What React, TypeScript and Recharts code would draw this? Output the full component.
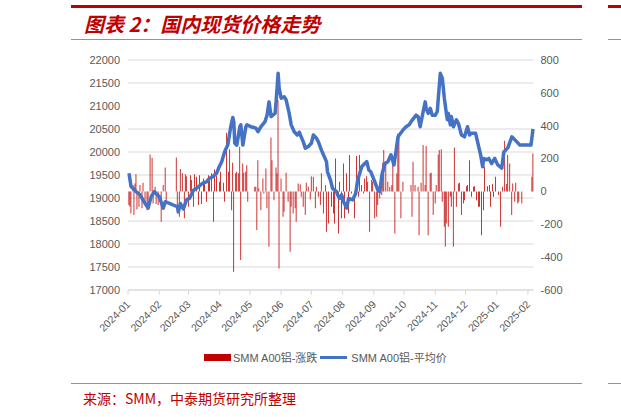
import React from 'react';
import { ComposedChart, Bar, Line, XAxis, YAxis, CartesianGrid, Legend } from 'recharts';

// day offsets from 2024-01-01 for the average price line
const lineDays = [
  1, 3, 5, 8, 12, 17, 20, 23, 26, 29, 31, 35, 37, 49, 50, 52, 55, 58, 61, 65,
  68, 74, 78, 81, 84, 88, 90, 93, 96, 99, 102, 104, 105, 106, 108, 111, 112, 114, 117, 118,
  122, 127, 129, 132, 136, 138, 140, 142, 146, 147, 149, 150, 152, 155, 157, 160, 162, 165, 168, 170,
  174, 176, 179, 182, 184, 187, 189, 192, 194, 197, 198, 201, 203, 207, 208, 210, 212, 214, 217, 219,
  223, 226, 228, 232, 235, 237, 239, 241, 245, 248, 250, 252, 255, 258, 261, 264, 266, 268, 273, 276,
  279, 281, 286, 288, 290, 293, 295, 296, 298, 300, 302, 305, 307, 308, 310, 312, 314, 316, 317, 318,
  320, 321, 323, 326, 328, 331, 334, 337, 339, 341, 345, 347, 350, 352, 353, 356, 358, 361, 364, 367,
  371, 373, 377, 381, 386, 389, 400, 402,
];
const avgPrice = [
  19540, 19250, 19210, 19140, 19070, 18880, 18780, 19030, 19140, 19070, 19030, 18780, 18920, 18810, 18700, 18880, 18760, 18960, 18990, 19170,
  19210, 19320, 19350, 19430, 19460, 19540, 19650, 19790, 20010, 20150, 20550, 20750, 20660, 20190, 20150, 20550, 20590, 20150, 20550, 20590,
  20550, 20520, 20440, 20550, 20660, 20800, 21090, 20770, 20840, 21090, 21710, 21390, 21170, 21200, 21130, 20840, 20590, 20440, 20370, 20430,
  20220, 20080, 20120, 20190, 20370, 20300, 20220, 20040, 19940, 19790, 19570, 19390, 19210, 19140, 19070, 18990, 19070, 18920, 18780, 18990,
  18960, 19100, 19390, 19680, 19750, 19790, 19610, 19570, 19350, 19170, 19140, 19500, 19750, 19790, 19940, 19720, 20010, 20330, 20480, 20550,
  20590, 20660, 20800, 20770, 20550, 20880, 21090, 20950, 20840, 20950, 20800, 20800, 20880, 21170, 21710, 21600, 21170, 20840, 20700, 20840,
  20590, 20770, 20550, 20700, 20620, 20370, 20330, 20550, 20370, 20410, 20410, 20220, 19940, 19680, 19860, 19830, 19860, 19750, 19860, 19720,
  19650, 20000, 20090, 20330, 20220, 20150, 20150, 20500,
];

// day offsets and daily change (涨跌)
const barDays = [
  1, 2, 3, 5, 6, 7, 8, 9, 11, 12, 14, 15, 17, 19, 20, 22, 24, 25, 27, 28,
  30, 33, 35, 37, 38, 48, 49, 51, 52, 54, 56, 57, 58, 60, 62, 63, 65, 66, 68, 70,
  71, 73, 75, 76, 78, 80, 81, 83, 85, 86, 88, 91, 92, 95, 96, 98, 100, 101, 103, 104,
  105, 107, 108, 110, 111, 112, 114, 115, 117, 118, 119, 126, 127, 128, 129, 130, 132, 134, 135, 137,
  138, 140, 142, 143, 145, 147, 148, 149, 150, 152, 154, 155, 157, 159, 161, 162, 164, 166, 167, 169,
  171, 172, 174, 176, 177, 179, 181, 182, 184, 186, 187, 189, 191, 192, 194, 196, 197, 199, 202, 204,
  205, 206, 209, 210, 212, 214, 215, 217, 219, 220, 222, 225, 227, 229, 230, 232, 234, 235, 237, 238,
  240, 242, 243, 245, 247, 248, 250, 252, 253, 254, 256, 258, 260, 262, 263, 265, 267, 268, 269, 271,
  273, 281, 282, 283, 285, 288, 289, 291, 293, 295, 296, 298, 300, 301, 303, 305, 306, 308, 309, 311,
  312, 314, 315, 316, 318, 320, 321, 323, 324, 326, 328, 329, 331, 333, 334, 336, 337, 339, 341, 343,
  344, 346, 348, 349, 351, 353, 354, 357, 359, 360, 362, 363, 365, 368, 370, 372, 374, 376, 377, 379,
  381, 382, 384, 385, 387, 388, 391, 401, 402,
];
const dailyChange = [
  -83, -93, -134, 39, -144, 49, 105, -110, -93, 39, -103, 53, -83, -114, -103, 225, 205, -73, 28, -77,
  -83, -185, 39, 146, -73, 207, -134, -154, 136, 110, -164, 105, 93, -93, 99, 69, -93, 105, 89, -83,
  99, -77, 79, 65, -63, 99, 65, 110, -185, 134, 95, 59, 120, 53, -63, 357, 120, 256, -114, 175,
  -489, 110, 120, 110, 272, -418, 170, 114, 120, 160, -63, 28, 28, -235, 190, 18, -114, 79, -12, 140,
  -103, -337, 329, 190, -53, 146, 110, 556, -469, 79, -154, -124, 114, -63, -367, -93, -134, -103, -185, 49,
  43, -32, -93, -144, 53, 28, -49, 93, 89, -103, 28, -32, -83, 110, -134, 39, -245, -195, -93, -134,
  -195, 201, -256, 59, -164, 170, -164, 110, -134, 221, -12, -164, 215, -32, 221, 39, -12, 79, 93, 59,
  -245, 69, 59, -164, -154, -83, -43, -22, 175, 252, 181, 59, 28, 39, 181, -256, 110, 353, 333, -164,
  59, 39, -154, 181, 39, 28, -266, 53, 282, 39, 276, -266, 110, 114, -144, -73, 39, 225, 252, 256,
  -63, -215, -337, -195, -215, -32, -93, -337, 268, -93, 49, 53, -144, -73, -53, 32, 39, 190, -32, 28,
  32, -53, -93, -93, -266, -114, 150, 32, 39, -93, 45, -32, 89, -22, -215, 28, 308, 45, 221, 170,
  -144, 49, -63, 53, -73, -63, -73, 89, 231,
];

// month starts (day offsets) and their labels
const monthTicks = [0, 31, 60, 91, 121, 152, 182, 213, 244, 274, 305, 335, 366, 397];
const monthLabels = [
  '2024-01', '2024-02', '2024-03', '2024-04', '2024-05', '2024-06', '2024-07',
  '2024-08', '2024-09', '2024-10', '2024-11', '2024-12', '2025-01', '2025-02',
];
const priceTicks = [17000, 17500, 18000, 18500, 19000, 19500, 20000, 20500, 21000, 21500, 22000];
const changeTicks = [-600, -400, -200, 0, 200, 400, 600, 800];

const allDays = Array.from(new Set([...lineDays, ...barDays])).sort((a, b) => a - b);
const chartData = allDays.map((day) => {
  const li = lineDays.indexOf(day);
  const bi = barDays.indexOf(day);
  return {
    day,
    price: li >= 0 ? avgPrice[li] : null,
    change: bi >= 0 ? dailyChange[bi] : null,
  };
});

const FONT = "'Liberation Sans', 'Noto Sans CJK SC', sans-serif";
const RED = '#c00000';
const BLUE = '#4472c4';
const GREY_TEXT = '#595959';
const PINK = '#d97777';

const MonthTick = (props: any) => {
  const { x, y, payload } = props;
  const label = monthLabels[monthTicks.indexOf(payload.value)] ?? '';
  const ax = x + 3;
  const ay = y + 4;
  return (
    <text
      x={ax}
      y={ay}
      transform={`rotate(-45 ${ax} ${ay})`}
      textAnchor="end"
      fill={GREY_TEXT}
      fontSize={10.5}
      fontFamily={FONT}
    >
      {label}
    </text>
  );
};

const LegendContent = () => (
  <div
    style={{
      display: 'flex',
      alignItems: 'center',
      paddingLeft: 204,
      height: 16,
      fontSize: 11,
      fontFamily: FONT,
      color: GREY_TEXT,
      whiteSpace: 'nowrap',
    }}
  >
    <span style={{ display: 'inline-block', width: 27, height: 7, background: RED, marginRight: 2 }} />
    <span>SMM A00铝-涨跌</span>
    <span style={{ display: 'inline-block', width: 27, height: 3, background: BLUE, margin: '0 4px 0 3px' }} />
    <span>SMM A00铝-平均价</span>
  </div>
);

export default function App() {
  return (
    <div
      style={{
        position: 'absolute',
        left: 0,
        top: 0,
        width: 621,
        height: 417,
        overflow: 'hidden',
        background: '#fff',
      }}
    >
      {/* header */}
      <div style={{ position: 'absolute', left: 71, top: 5, width: 511, height: 3, background: RED }} />
      <div style={{ position: 'absolute', left: 608, top: 5, width: 13, height: 3, background: RED }} />
      <div
        style={{
          position: 'absolute',
          left: 84,
          top: 14,
          fontSize: 20,
          lineHeight: '20px',
          fontWeight: 700,
          fontStyle: 'italic',
          color: RED,
          fontFamily: "'Noto Sans CJK SC', sans-serif",
          whiteSpace: 'nowrap',
        }}
      >
        图表 2：国内现货价格走势
      </div>
      <div style={{ position: 'absolute', left: 71, top: 39, width: 511, height: 1, background: PINK }} />
      <div style={{ position: 'absolute', left: 608, top: 39, width: 13, height: 1, background: PINK }} />

      <div style={{ position: 'absolute', left: 0, top: 0 }}>
        <ComposedChart
          width={621}
          height={417}
          data={chartData}
          margin={{ top: 60, right: 0, bottom: 0, left: 0 }}
        >
          <CartesianGrid yAxisId="left" vertical={false} stroke="#d9d9d9" />
          <XAxis
            dataKey="day"
            type="number"
            domain={[0, 402.5]}
            ticks={monthTicks}
            interval={0}
            height={127}
            stroke="#d9d9d9"
            tickSize={5}
            tickMargin={6}
            tick={<MonthTick />}
          />
          <YAxis
            yAxisId="left"
            orientation="left"
            width={128}
            domain={[17000, 22000]}
            ticks={priceTicks}
            axisLine={false}
            tickLine={false}
            tickSize={0}
            tickMargin={8}
            tick={{ fill: GREY_TEXT, fontSize: 11, fontFamily: FONT }}
          />
          <YAxis
            yAxisId="right"
            orientation="right"
            width={87.5}
            domain={[-600, 800]}
            ticks={changeTicks}
            axisLine={false}
            tickLine={false}
            tickSize={0}
            tickMargin={7}
            tick={{ fill: GREY_TEXT, fontSize: 11, fontFamily: FONT, textAnchor: 'start' }}
          />
          <Legend
            layout="horizontal"
            verticalAlign="middle"
            align="center"
            wrapperStyle={{ top: 349, left: 0, width: 621 }}
            content={<LegendContent />}
          />
          <Bar
            yAxisId="right"
            dataKey="change"
            name="SMM A00铝-涨跌"
            fill={RED}
            barSize={0.8}
            isAnimationActive={false}
          />
          <Line
            yAxisId="left"
            type="linear"
            dataKey="price"
            name="SMM A00铝-平均价"
            stroke={BLUE}
            strokeWidth={3.5}
            strokeLinejoin="round"
            dot={false}
            activeDot={false}
            connectNulls
            isAnimationActive={false}
          />
        </ComposedChart>
      </div>

      {/* footer */}
      <div style={{ position: 'absolute', left: 71, top: 383, width: 511, height: 1, background: PINK }} />
      <div style={{ position: 'absolute', left: 608, top: 383, width: 13, height: 1, background: PINK }} />
      <div
        style={{
          position: 'absolute',
          left: 83,
          top: 391,
          fontSize: 14,
          lineHeight: '14px',
          color: RED,
          fontFamily: "'Noto Sans CJK SC', sans-serif",
          whiteSpace: 'nowrap',
        }}
      >
        来源：SMM，中泰期货研究所整理
      </div>
    </div>
  );
}
